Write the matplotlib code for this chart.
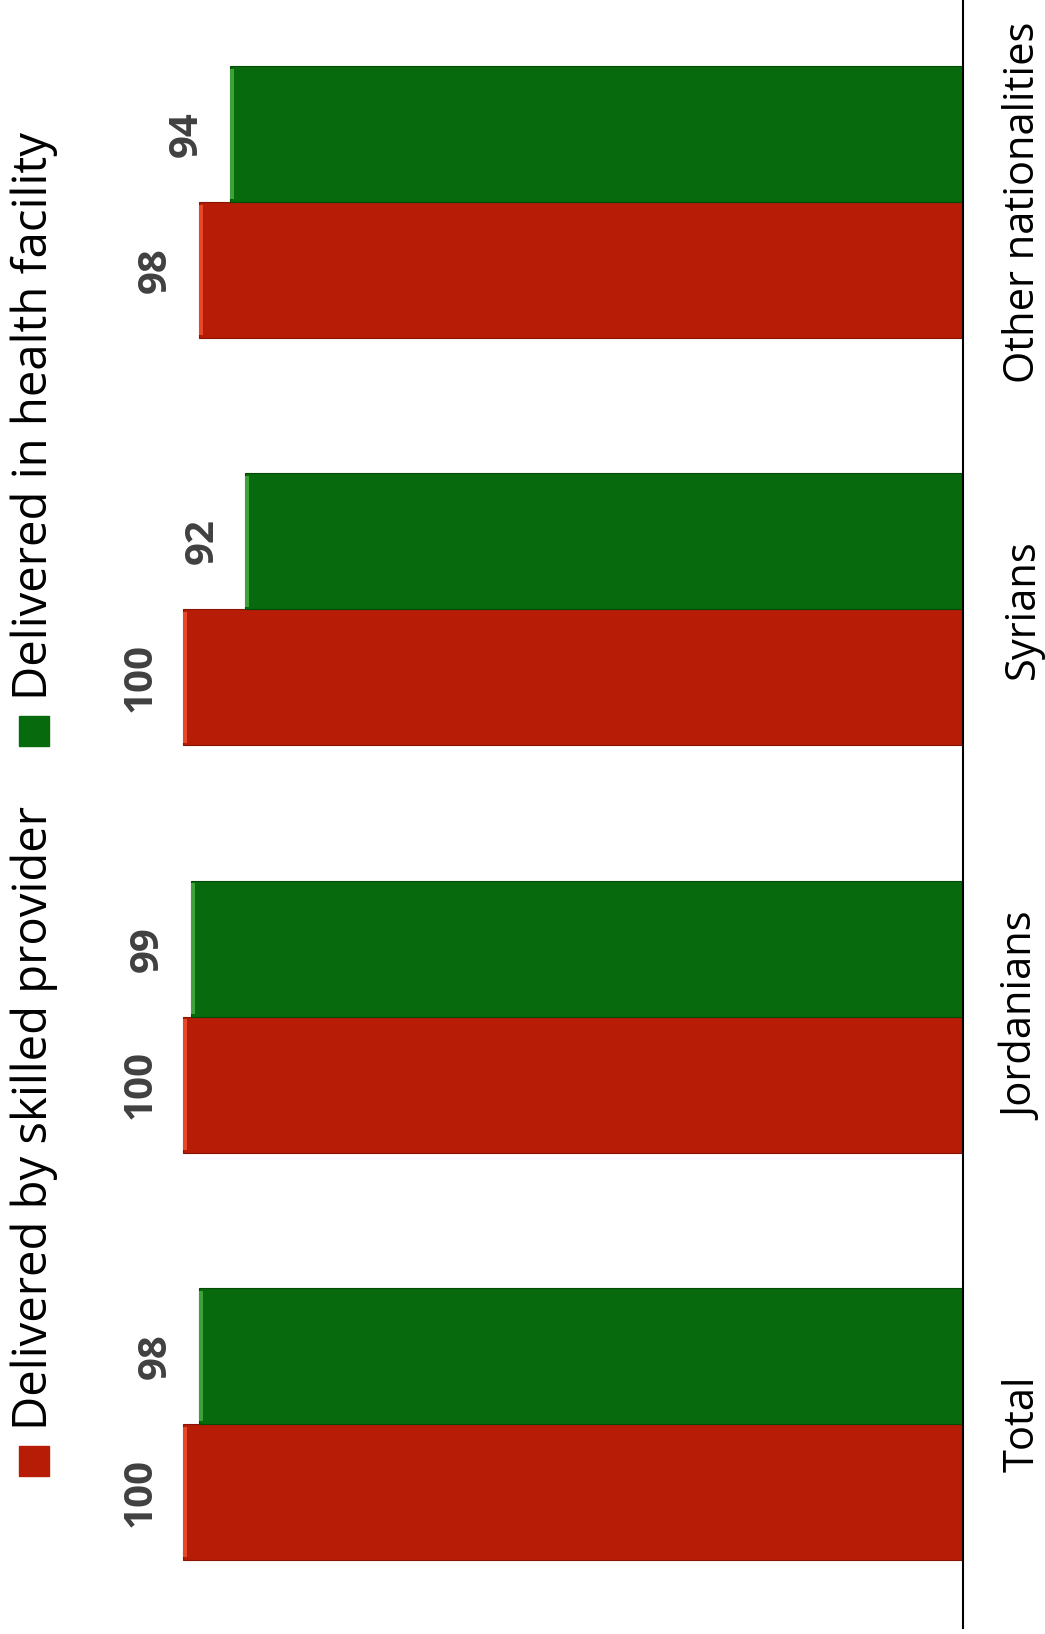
import matplotlib.pyplot as plt
from matplotlib.patches import Rectangle
import numpy as np

plt.rcParams['font.family'] = ['Open Sans', 'DejaVu Sans']

categories = ['Total', 'Jordanians', 'Syrians', 'Other nationalities']
skilled_provider = [100, 100, 100, 98]
health_facility = [98, 99, 92, 94]
series_names = ['Delivered by skilled provider', 'Delivered in health facility']

red = '#B71C07'
green = '#076A0C'

W, H = 1045, 1634
fig = plt.figure(figsize=(W / 100, H / 100), dpi=100)
ax = fig.add_axes([27 / W, 1 - 1627.7 / H, (963 - 27) / W, 1629.4 / H])

y = np.arange(len(categories))
bw = 0.334
bars_red = ax.barh(y - bw / 2, skilled_provider, height=bw, color=red,
                   edgecolor='#8A1404', linewidth=0.8)
bars_green = ax.barh(y + bw / 2, health_facility, height=bw, color=green,
                     edgecolor='#044A07', linewidth=0.8)

# small highlight at the bar ends (bevel look)
for bars, hl in [(bars_red, '#E8472A'), (bars_green, '#3DA23A')]:
    for b in bars:
        ax.barh(b.get_y() + b.get_height() / 2, 0.5, left=b.get_width() - 0.5,
                height=b.get_height() * 0.96, color=hl, linewidth=0)

for bars, vals in [(bars_red, skilled_provider), (bars_green, health_facility)]:
    for b, v in zip(bars, vals):
        ax.annotate(str(v), xy=(v, b.get_y() + b.get_height() / 2),
                    xytext=(-17, 0), textcoords='offset points',
                    ha='right', va='center', rotation=90,
                    fontsize=29, fontweight='bold', color='#404040')

ax.set_xlim(120, 0)
ax.set_ylim(-0.5, 3.5)
for s in ['top', 'bottom', 'left']:
    ax.spines[s].set_visible(False)
ax.spines['right'].set_linewidth(1.5)
ax.spines['right'].set_color('black')
ax.set_xticks([])
ax.yaxis.tick_right()
ax.set_yticks(y)
ax.set_yticklabels(categories, rotation=90, va='center', fontsize=30)
ax.tick_params(axis='y', length=0, pad=28)

# legend drawn rotated, like the reference
legend_items = [(red, series_names[0], 1476, 1430), (green, series_names[1], 746, 700)]
for col, name, sq_bottom, txt_bottom in legend_items:
    fig.patches.append(Rectangle((19 / W, 1 - sq_bottom / H), 30 / W, 30 / H,
                                 transform=fig.transFigure, color=col))
    fig.text(34 / W, 1 - txt_bottom / H, name, rotation=90, ha='center',
             va='bottom', fontsize=34, color='black')

fig.savefig('out.png', dpi=100)
